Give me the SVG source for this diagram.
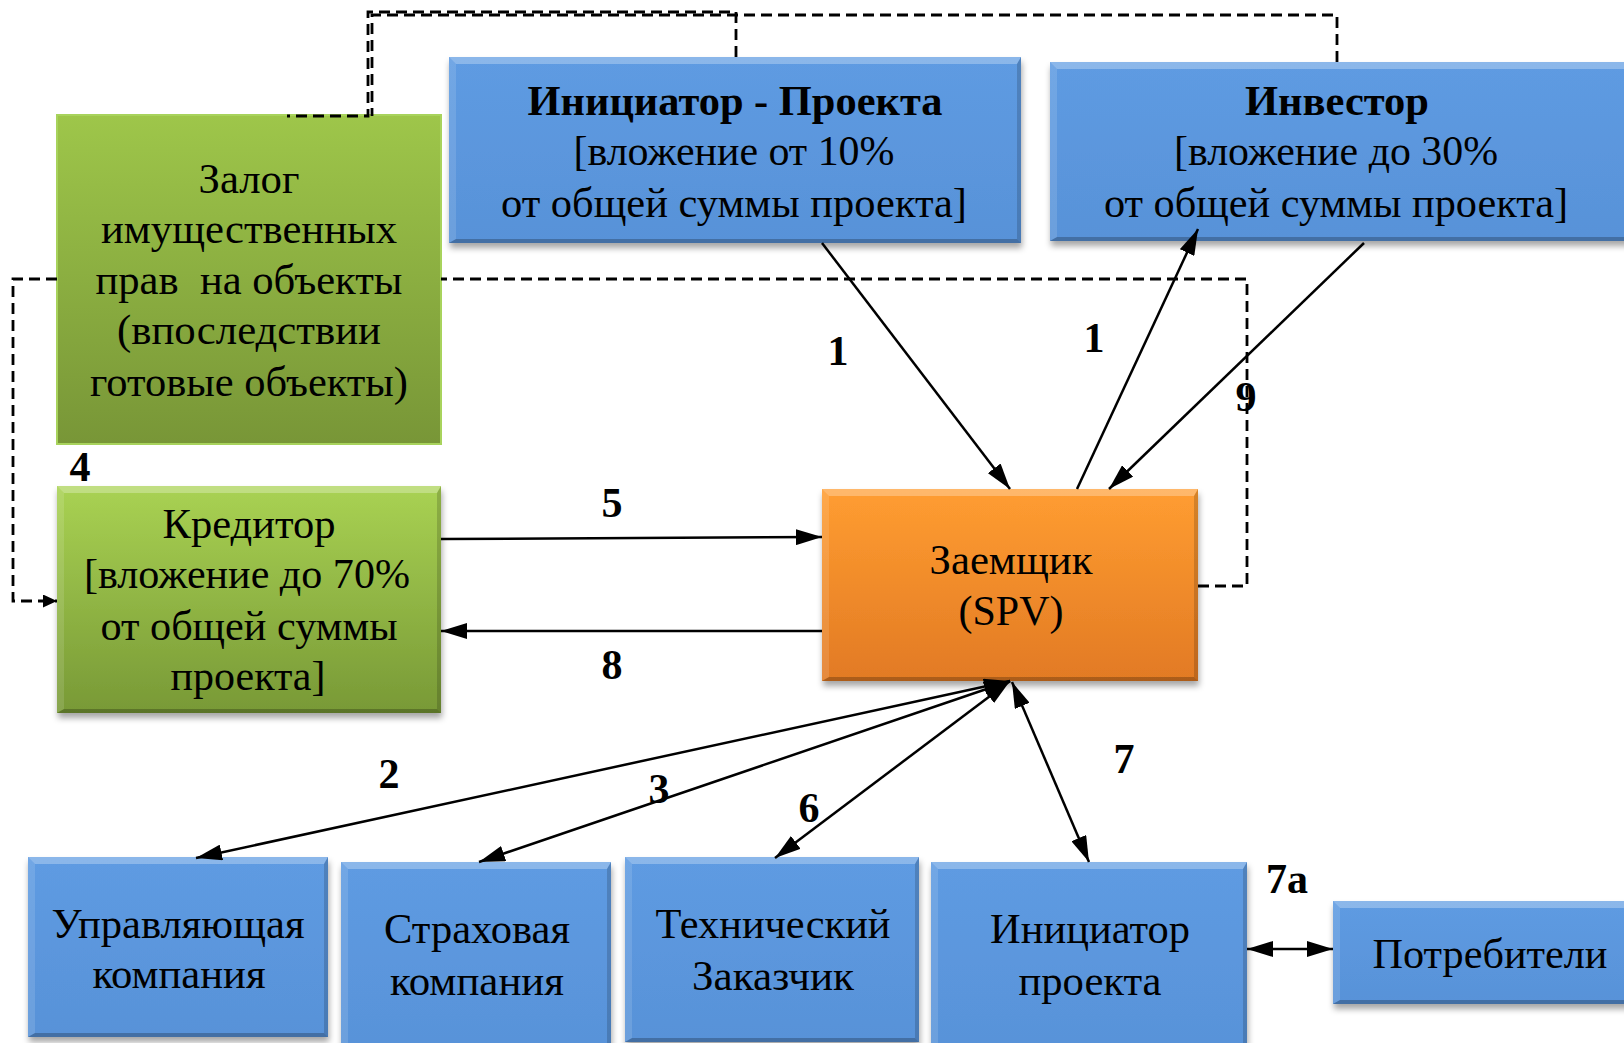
<svg xmlns="http://www.w3.org/2000/svg" width="1624" height="1043" viewBox="0 0 1624 1043">
<style>
  .t { font-family: "Liberation Serif", "Times New Roman", serif; font-size: 42px; fill: #000; text-anchor: middle; white-space: pre; }
  .b { font-weight: bold; }
  .n { font-family: "Liberation Serif", "Times New Roman", serif; font-size: 42px; font-weight: bold; fill: #000; text-anchor: middle; }
  .ln { stroke: #000; stroke-width: 2.5; fill: none; }
  .dash { stroke: #000; stroke-width: 2.8; fill: none; stroke-dasharray: 11 6; }
  .bt { fill: #fff; fill-opacity: 0.28; }
  .bl { fill: #fff; fill-opacity: 0.12; }
  .br { fill: #000; fill-opacity: 0.16; }
  .bb { fill: #000; fill-opacity: 0.24; }
</style>
<defs>
  <linearGradient id="gBlue" x1="0" y1="0" x2="0" y2="1">
    <stop offset="0" stop-color="#5E9BE2"/>
    <stop offset="1" stop-color="#5892D8"/>
  </linearGradient>
  <linearGradient id="gOrange" x1="0" y1="0" x2="0" y2="1">
    <stop offset="0" stop-color="#FF9D31"/>
    <stop offset="1" stop-color="#E27A24"/>
  </linearGradient>
  <linearGradient id="gGreen" x1="0" y1="0" x2="0" y2="1">
    <stop offset="0" stop-color="#A9D253"/>
    <stop offset="1" stop-color="#789936"/>
  </linearGradient>
  <linearGradient id="gGreen2" x1="0" y1="0" x2="0" y2="1">
    <stop offset="0" stop-color="#9EC64A"/>
    <stop offset="1" stop-color="#789637"/>
  </linearGradient>
  <filter id="sh" x="-10%" y="-10%" width="120%" height="130%">
    <feDropShadow dx="1" dy="5" stdDeviation="3" flood-color="#000" flood-opacity="0.35"/>
  </filter>
  <marker id="ah" markerUnits="userSpaceOnUse" markerWidth="28" markerHeight="16" refX="26" refY="8" orient="auto-start-reverse">
    <path d="M0,0 L26,8 L0,16 z" fill="#000"/>
  </marker>
  <marker id="ahs" markerUnits="userSpaceOnUse" markerWidth="15" markerHeight="13" refX="14" refY="6.5" orient="auto">
    <path d="M0,0 L14,6.5 L0,13 z" fill="#000"/>
  </marker>
</defs>
<rect width="1624" height="1043" fill="#fff"/>

<!-- Nodes -->
<g id="node-zalog">
  <rect x="57" y="115" width="384" height="329" fill="url(#gGreen2)" stroke="#A8D35C" stroke-width="2"/>
  <text class="t" x="249" y="193" textLength="101" lengthAdjust="spacingAndGlyphs">Залог</text>
  <text class="t" x="249" y="243" textLength="296" lengthAdjust="spacingAndGlyphs">имущественных</text>
  <text class="t" x="249" y="294" textLength="307" lengthAdjust="spacingAndGlyphs">прав  на объекты</text>
  <text class="t" x="249" y="344" textLength="264" lengthAdjust="spacingAndGlyphs">(впоследствии</text>
  <text class="t" x="249" y="396" textLength="318" lengthAdjust="spacingAndGlyphs">готовые объекты)</text>
</g>

<g id="node-initiator-top">
  <g transform="translate(449,57)">
    <rect width="572" height="186" fill="url(#gBlue)" filter="url(#sh)"/>
    <polygon class="bt" points="0,0 572,0 568,7 7,7"/>
    <polygon class="bl" points="0,0 7,7 7,182 0,186"/>
    <polygon class="br" points="572,0 572,186 568,182 568,7"/>
    <polygon class="bb" points="0,186 572,186 568,182 7,182"/>
  </g>
  <text class="t b" x="735" y="115" textLength="415" lengthAdjust="spacingAndGlyphs">Инициатор - Проекта</text>
  <text class="t" x="734" y="165" textLength="321" lengthAdjust="spacingAndGlyphs">[вложение от 10%</text>
  <text class="t" x="734" y="217" textLength="466" lengthAdjust="spacingAndGlyphs">от общей суммы проекта]</text>
</g>

<g id="node-investor">
  <g transform="translate(1050,62)">
    <rect width="590" height="179" fill="url(#gBlue)" filter="url(#sh)"/>
    <polygon class="bt" points="0,0 590,0 586,7 7,7"/>
    <polygon class="bl" points="0,0 7,7 7,175 0,179"/>
    <polygon class="bb" points="0,179 590,179 586,175 7,175"/>
  </g>
  <text class="t b" x="1337" y="115" textLength="184" lengthAdjust="spacingAndGlyphs">Инвестор</text>
  <text class="t" x="1336" y="165" textLength="324" lengthAdjust="spacingAndGlyphs">[вложение до 30%</text>
  <text class="t" x="1336" y="217" textLength="464" lengthAdjust="spacingAndGlyphs">от общей суммы проекта]</text>
</g>

<g id="node-kreditor">
  <g transform="translate(57,486)">
    <rect width="384" height="227" fill="url(#gGreen)" filter="url(#sh)"/>
    <polygon class="bt" points="0,0 384,0 380,7 7,7"/>
    <polygon class="bl" points="0,0 7,7 7,223 0,227"/>
    <polygon class="br" points="384,0 384,227 380,223 380,7"/>
    <polygon class="bb" points="0,227 384,227 380,223 7,223"/>
  </g>
  <text class="t" x="249" y="538" textLength="173" lengthAdjust="spacingAndGlyphs">Кредитор</text>
  <text class="t" x="247" y="588" textLength="326" lengthAdjust="spacingAndGlyphs">[вложение до 70%</text>
  <text class="t" x="249" y="640" textLength="297" lengthAdjust="spacingAndGlyphs">от общей суммы</text>
  <text class="t" x="248" y="690" textLength="155" lengthAdjust="spacingAndGlyphs">проекта]</text>
</g>

<g id="node-zaemshik">
  <g transform="translate(822,489)">
    <rect width="376" height="192" fill="url(#gOrange)" filter="url(#sh)"/>
    <polygon class="bt" points="0,0 376,0 372,7 7,7"/>
    <polygon class="bl" points="0,0 7,7 7,188 0,192"/>
    <polygon class="br" points="376,0 376,192 372,188 372,7"/>
    <polygon class="bb" points="0,192 376,192 372,188 7,188"/>
  </g>
  <text class="t" x="1011" y="574" textLength="163" lengthAdjust="spacingAndGlyphs">Заемщик</text>
  <text class="t" x="1011" y="625" textLength="105" lengthAdjust="spacingAndGlyphs">(SPV)</text>
</g>

<g id="node-upr">
  <g transform="translate(28,857)">
    <rect width="300" height="180" fill="url(#gBlue)" filter="url(#sh)"/>
    <polygon class="bt" points="0,0 300,0 296,7 7,7"/>
    <polygon class="bl" points="0,0 7,7 7,176 0,180"/>
    <polygon class="br" points="300,0 300,180 296,176 296,7"/>
    <polygon class="bb" points="0,180 300,180 296,176 7,176"/>
  </g>
  <text class="t" x="178" y="938" textLength="253" lengthAdjust="spacingAndGlyphs">Управляющая</text>
  <text class="t" x="179" y="988" textLength="173" lengthAdjust="spacingAndGlyphs">компания</text>
</g>

<g id="node-strah">
  <g transform="translate(341,862)">
    <rect width="270" height="200" fill="url(#gBlue)" filter="url(#sh)"/>
    <polygon class="bt" points="0,0 270,0 266,7 7,7"/>
    <polygon class="bl" points="0,0 7,7 7,200 0,200"/>
    <polygon class="br" points="270,0 270,200 266,200 266,7"/>
  </g>
  <text class="t" x="477" y="943" textLength="186" lengthAdjust="spacingAndGlyphs">Страховая</text>
  <text class="t" x="477" y="995" textLength="174" lengthAdjust="spacingAndGlyphs">компания</text>
</g>

<g id="node-tech">
  <g transform="translate(625,857)">
    <rect width="294" height="185" fill="url(#gBlue)" filter="url(#sh)"/>
    <polygon class="bt" points="0,0 294,0 290,7 7,7"/>
    <polygon class="bl" points="0,0 7,7 7,181 0,185"/>
    <polygon class="br" points="294,0 294,185 290,181 290,7"/>
    <polygon class="bb" points="0,185 294,185 290,181 7,181"/>
  </g>
  <text class="t" x="773" y="938" textLength="235" lengthAdjust="spacingAndGlyphs">Технический</text>
  <text class="t" x="773" y="990" textLength="162" lengthAdjust="spacingAndGlyphs">Заказчик</text>
</g>

<g id="node-initiator-bottom">
  <g transform="translate(931,862)">
    <rect width="316" height="200" fill="url(#gBlue)" filter="url(#sh)"/>
    <polygon class="bt" points="0,0 316,0 312,7 7,7"/>
    <polygon class="bl" points="0,0 7,7 7,200 0,200"/>
    <polygon class="br" points="316,0 316,200 312,200 312,7"/>
  </g>
  <text class="t" x="1090" y="943" textLength="200" lengthAdjust="spacingAndGlyphs">Инициатор</text>
  <text class="t" x="1090" y="995" textLength="143" lengthAdjust="spacingAndGlyphs">проекта</text>
</g>

<g id="node-consumers">
  <g transform="translate(1333,901)">
    <rect width="300" height="103" fill="url(#gBlue)" filter="url(#sh)"/>
    <polygon class="bt" points="0,0 300,0 296,7 7,7"/>
    <polygon class="bl" points="0,0 7,7 7,99 0,103"/>
    <polygon class="bb" points="0,103 300,103 296,99 7,99"/>
  </g>
  <text class="t" x="1490" y="968" textLength="235" lengthAdjust="spacingAndGlyphs">Потребители</text>
</g>

<!-- Connectors -->
<g id="connectors">
  <path class="dash" d="M736 57 V12 H368 V116 H287"/>
  <path class="dash" d="M1337 62 V15 H372 V116"/>
  <path class="dash" d="M1198 586 H1247 V279 H441"/>
  <path class="dash" d="M57 279 H13 V601 H57" marker-end="url(#ahs)"/>

  <path class="ln" d="M822 243 L1010 489" marker-end="url(#ah)"/>
  <path class="ln" d="M1077 489 L1198 229" marker-end="url(#ah)"/>
  <path class="ln" d="M1364 243 L1109 489" marker-end="url(#ah)"/>
  <path class="ln" d="M441 539 L822 537" marker-end="url(#ah)"/>
  <path class="ln" d="M822 631 L441 631" marker-end="url(#ah)"/>
  <path class="ln" d="M1010 681 L196 858" marker-start="url(#ah)" marker-end="url(#ah)"/>
  <path class="ln" d="M1010 681 L479 862" marker-start="url(#ah)" marker-end="url(#ah)"/>
  <path class="ln" d="M1010 681 L775 858" marker-start="url(#ah)" marker-end="url(#ah)"/>
  <path class="ln" d="M1012 682 L1089 862" marker-start="url(#ah)" marker-end="url(#ah)"/>
  <path class="ln" d="M1247 949 L1333 949" marker-start="url(#ah)" marker-end="url(#ah)"/>

  <text class="n" x="838" y="365">1</text>
  <text class="n" x="1094" y="352">1</text>
  <text class="n" x="1246" y="411">9</text>
  <text class="n" x="80" y="481">4</text>
  <text class="n" x="612" y="517">5</text>
  <text class="n" x="612" y="679">8</text>
  <text class="n" x="389" y="788">2</text>
  <text class="n" x="659" y="803">3</text>
  <text class="n" x="809" y="822">6</text>
  <text class="n" x="1124" y="773">7</text>
  <text class="n" x="1287" y="893">7a</text>
</g>
</svg>
